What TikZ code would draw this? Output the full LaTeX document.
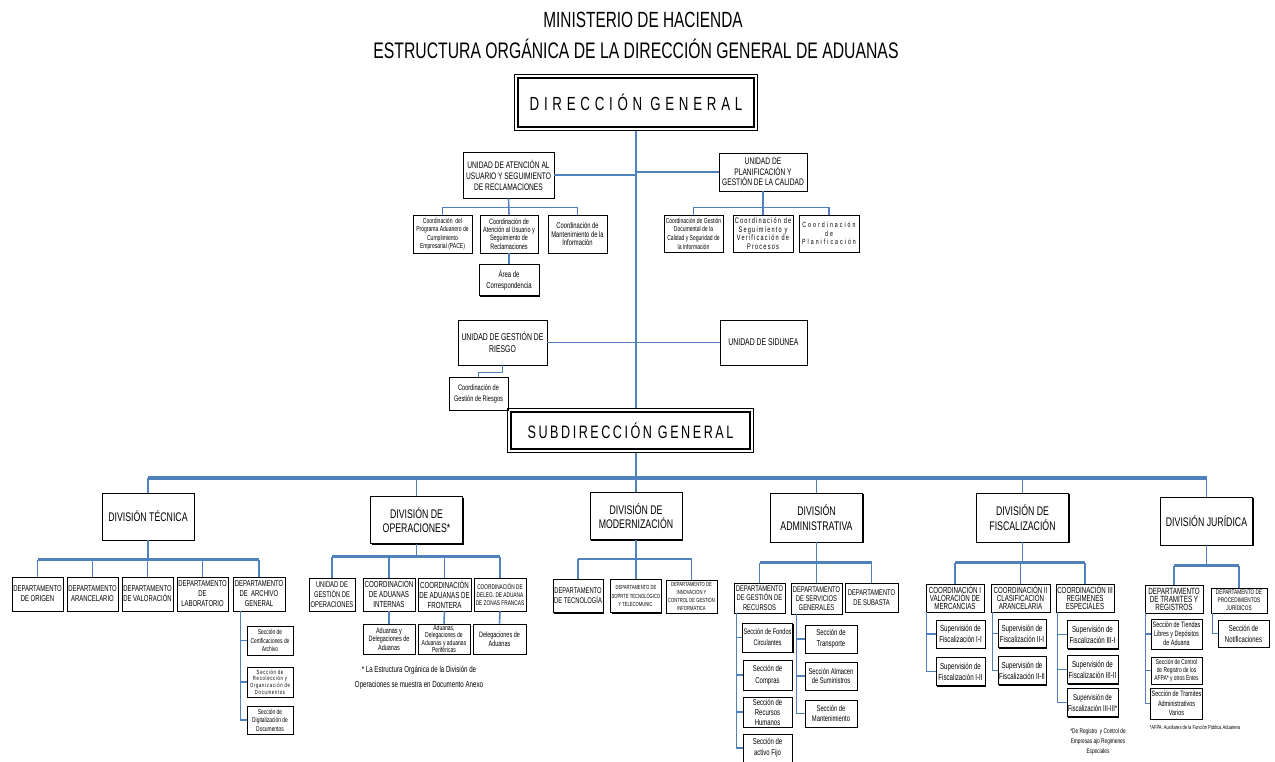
\documentclass[tikz,border=0pt]{standalone}
\usepackage{fontspec}
\setmainfont{Liberation Sans}[FakeStretch=0.7]
\usetikzlibrary{positioning, calc, shadows}
\definecolor{azul}{RGB}{79,129,189}
\newcommand{\fsz}[2]{\fontsize{#1}{#2}\selectfont}
\tikzset{
  caja/.style={draw, line width=0.8pt, fill=white, align=center, inner sep=1pt,
    drop shadow={shadow xshift=1.2pt, shadow yshift=-1.2pt, fill=black, opacity=1}},
  jefe/.style={caja, line width=1.3pt},
  marco/.style={draw, line width=0.8pt},
  division/.style={caja, minimum width=92, minimum height=47, font=\fsz{12.5}{14.5}},
  depto/.style={caja, minimum width=51, minimum height=34, font=\fsz{8.5}{10}},
  superv/.style={caja, minimum height=28, font=\fsz{8.8}{11}},
  linea/.style={draw=azul, line width=1.6pt},
  barra/.style={draw=azul, line width=3.2pt},
  subbarra/.style={draw=azul, line width=2.6pt},
  nota/.style={align=center, inner sep=0pt},
}
\begin{document}
\begin{tikzpicture}[x=1pt, y=-1pt]
\useasboundingbox (0,0) rectangle (1275,761);

\node[nota, font=\fsz{22}{26}] (min) at (643,20) {MINISTERIO DE HACIENDA};
\node[nota, font=\fsz{22.5}{26}] (est) at (636,49) {ESTRUCTURA ORGÁNICA DE LA DIRECCIÓN GENERAL DE ADUANAS};

\node[jefe, minimum width=236, minimum height=49, font={\fsz{19}{22}\addfontfeatures{LetterSpace=25}}] (dg) at (636,102.5) {DIRECCIÓN\hspace{8pt}GENERAL};
\draw[marco] ($(dg.north west)+(-3,-3)$) rectangle ($(dg.south east)+(3,3)$);

\node[caja, minimum width=91, minimum height=46, font=\fsz{9.5}{11}] (uatn) at (508.5,175) {UNIDAD DE ATENCIÓN AL\\USUARIO Y SEGUIMIENTO\\DE RECLAMACIONES};
\node[caja, minimum width=88, minimum height=38, font=\fsz{9.5}{10.5}] (upla) at (763,172) {UNIDAD DE\\PLANIFICACIÓN Y\\GESTIÓN DE LA CALIDAD};

\node[caja, minimum width=59, minimum height=38, font=\fsz{7.2}{8.3}] (pace) at (442.5,234) {Coordinación\ \ del\\Programa Aduanero de\\Cumplimiento\\Empresarial (PACE)};
\node[caja, minimum width=58, minimum height=38, font=\fsz{7.8}{8.3}] (catn) at (509,234) {Coordinación de\\Atención al Usuario y\\Seguimiento de\\Reclamaciones};
\node[caja, minimum width=59, minimum height=38, font=\fsz{8.3}{8.5}] (cmnt) at (577.5,234) {Coordinación de\\Mantenimiento de la\\Información};
\node[caja, minimum width=60, minimum height=31, font=\fsz{8.5}{11}] (acor) at (509,280) {Área de\\Correspondencia};

\node[caja, minimum width=59, minimum height=37, font=\fsz{7.2}{8.6}] (cgdc) at (693.5,233.5) {Coordinación de Gestión\\Documental de la\\Calidad y Seguridad de\\la Información};
\node[caja, minimum width=60, minimum height=37, font={\fsz{8}{8.4}\addfontfeatures{LetterSpace=15}}] (csvp) at (763,233.5) {Coordinación de\\Seguimiento y\\Verificación de\\Procesos};
\node[caja, minimum width=60, minimum height=37, font={\fsz{7.5}{8.5}\addfontfeatures{LetterSpace=27}}] (cpla) at (829,233.5) {Coordinación\\de\\Planificación};

\node[caja, minimum width=89, minimum height=45, font=\fsz{9.8}{12}] (ugr) at (502.5,342.5) {UNIDAD DE GESTIÓN DE\\RIESGO};
\node[caja, minimum width=87, minimum height=45, font=\fsz{9.8}{12}] (usid) at (763.5,342.5) {UNIDAD DE SIDUNEA};
\node[caja, minimum width=59, minimum height=33, font=\fsz{8}{11}] (cgr) at (478.5,393.5) {Coordinación de\\Gestión de Riesgos};

\node[jefe, minimum width=239, minimum height=37, font={\fsz{18}{20}\addfontfeatures{LetterSpace=14}}] (sg) at (630.5,430.5) {SUBDIRECCIÓN\hspace{6pt}GENERAL};
\draw[marco] ($(sg.north west)+(-3,-3)$) rectangle ($(sg.south east)+(3,3)$);

\node[division] (dtec) at (148,516.5) {DIVISIÓN TÉCNICA};
\node[division] (dope) at (416.5,520) {DIVISIÓN DE\\OPERACIONES*};
\node[division] (dmod) at (636,516) {DIVISIÓN DE\\MODERNIZACIÓN};
\node[division, minimum height=49] (dadm) at (816.5,517.5) {DIVISIÓN\\ADMINISTRATIVA};
\node[division, minimum height=49] (dfis) at (1022.5,517.5) {DIVISIÓN DE\\FISCALIZACIÓN};
\node[division, minimum height=48] (djur) at (1206.5,521) {DIVISIÓN JURÍDICA};

\node[depto] (dor) at (37.5,594) {DEPARTAMENTO\\DE ORIGEN};
\node[depto] (dar) at (92.5,594) {DEPARTAMENTO\\ARANCELARIO};
\node[depto] (dva) at (147.5,594) {DEPARTAMENTO\\DE VALORACIÓN};
\node[depto] (dla) at (202.5,594) {DEPARTAMENTO\\DE\\LABORATORIO};
\node[depto, minimum width=52] (dag) at (259,594) {DEPARTAMENTO\\DE\ \ ARCHIVO\\GENERAL};

\node[caja, minimum width=46, minimum height=29, font=\fsz{7}{8.5}] (scer) at (270,640.5) {Sección de\\Certificaciones de\\Archivo};
\node[caja, minimum width=46, minimum height=30, font={\fsz{6}{6.6}\addfontfeatures{LetterSpace=12}}] (srec) at (270,682) {Sección de\\Recolección y\\Organización de\\Documentos};
\node[caja, minimum width=46, minimum height=28, font=\fsz{7}{8.5}] (sdig) at (270,720) {Sección de\\Digitalización de\\Documentos};

\node[depto, minimum width=46, minimum height=33, font=\fsz{8.3}{10}] (ugo) at (332,594.5) {UNIDAD DE\\GESTIÓN DE\\OPERACIONES};
\node[depto, minimum width=52, minimum height=33, font=\fsz{8.8}{10}] (cai) at (389,594.5) {COORDINACION\\DE ADUANAS\\INTERNAS};
\node[depto, minimum width=53, minimum height=33, font=\fsz{8.8}{10}] (caf) at (444.5,594.5) {COORDINACIÓN\\DE ADUANAS DE\\FRONTERA};
\node[depto, minimum width=52, minimum height=33, font=\fsz{6.8}{8}] (czf) at (500,594.5) {COORDINACIÓN DE\\DELEG. DE ADUANA\\DE ZONAS FRANCAS};

\node[caja, minimum width=52, minimum height=30, font=\fsz{7.8}{8.3}] (adi) at (389,639) {Aduanas y\\Delegaciones de\\Aduanas};
\node[caja, minimum width=52, minimum height=30, inner ysep=0pt, font=\fsz{7.2}{7.6}] (adf) at (444,639) {Aduanas,\\Delegaciones de\\Aduanas y aduanas\\Periféricas};
\node[caja, minimum width=53, minimum height=30, font=\fsz{7.8}{9}] (dza) at (499.5,639) {Delegaciones de\\Aduanas};

\node[nota, font=\fsz{8.8}{15}] (nope) at (419,677.5) {* La Estructura Orgánica de la División de\\Operaciones se muestra en Documento Anexo};

\node[depto, minimum width=50, minimum height=33, font=\fsz{8.3}{10}] (dtc) at (578,596) {DEPARTAMENTO\\DE TECNOLOGÍA};
\node[depto, minimum width=50, minimum height=33, font=\fsz{5.9}{8.5}] (dst) at (636,596) {DEPARTAMENTO DE\\SOPRTE TECNOLÓGICO\\Y TELECOMUNIC.};
\node[depto, minimum width=51, minimum height=33, inner ysep=0pt, font=\fsz{5.9}{8.2}] (dic) at (691.5,596.5) {DEPARTAMENTO DE\\INNOVACIÓN Y\\CONTROL DE GESTIÓN\\INFORMÁTICA};

\node[depto, minimum height=30, font=\fsz{8.3}{9.2}] (dgr) at (759.5,598) {DEPARTAMENTO\\DE GESTIÓN DE\\RECURSOS};
\node[depto, minimum height=31, font=\fsz{8.3}{9.2}] (dsg) at (816.5,598.5) {DEPARTAMENTO\\DE SERVICIOS\\GENERALES};
\node[depto, minimum width=53, minimum height=29, font=\fsz{8.3}{10}] (dsu) at (871.5,597.5) {DEPARTAMENTO\\DE SUBASTA};

\node[caja, minimum width=49, minimum height=29, font=\fsz{8}{11}] (sfon) at (767.5,637.5) {Sección de Fondos\\Circulantes};
\node[caja, minimum width=49, minimum height=30, font=\fsz{8.5}{12}] (scom) at (767.5,675) {Sección de\\Compras};
\node[caja, minimum width=49, minimum height=30, font=\fsz{8.5}{10}] (srhu) at (767.5,712) {Sección de\\Recursos\\Humanos};
\node[caja, minimum width=49, minimum height=28, font=\fsz{8.5}{11}] (sact) at (767.5,748) {Sección de\\activo Fijo};

\node[caja, minimum width=52, minimum height=28, font=\fsz{8.5}{11}] (stra) at (831,639) {Sección de\\Transporte};
\node[caja, minimum width=52, minimum height=28, font=\fsz{8.3}{9.5}] (salm) at (831,676) {Sección Almacen\\de Suministros};
\node[caja, minimum width=52, minimum height=27, font=\fsz{8.3}{10}] (sman) at (831,713.5) {Sección de\\Mantenimiento};

\node[depto, minimum width=58, minimum height=28, font=\fsz{8.8}{8}] (cvm) at (955,598) {COORDINACIÓN I\\VALORACIÓN DE\\MERCANCIAS};
\node[depto, minimum width=59, minimum height=28, font=\fsz{8.8}{8}] (cca) at (1020.5,598) {COORDINACIÓN II\\CLASIFICACIÓN\\ARANCELARIA};
\node[depto, minimum width=58, minimum height=28, font=\fsz{8.8}{8}] (cre) at (1085,598) {COORDINACIÓN III\\REGIMENES\\ESPECIALES};

\node[superv, minimum width=49] (s11) at (960.5,634) {Supervisión de\\Fiscalización I-I};
\node[superv, minimum width=49] (s12) at (960.5,671.5) {Supervisión de\\Fiscalización I-II};
\node[superv, minimum width=48] (s21) at (1022,633.5) {Supervisión de\\Fiscalización II-I};
\node[superv, minimum width=48] (s22) at (1022,670.5) {Supervisión de\\Fiscalización II-II};
\node[superv, minimum width=51] (s31) at (1092.5,634.5) {Supervisión de\\Fiscalización III-I};
\node[superv, minimum width=51] (s32) at (1092.5,669.5) {Supervisión de\\Fiscalización III-II};
\node[superv, minimum width=51, inner xsep=0pt, font=\fsz{8.4}{11}] (s33) at (1092.5,702.5) {Supervisión de\\Fiscalización III-III*};

\node[nota, font=\fsz{6.8}{10}] (nfis) at (1098,742) {*De Registro\ \ y Control de\\Empresas ajo Regimenes\\Especiales};

\node[depto, minimum width=58, minimum height=28, font=\fsz{9}{8}] (dtrr) at (1174,599) {DEPARTAMENTO\\DE TRAMITES Y\\REGISTROS};
\node[depto, minimum width=56, minimum height=25, font=\fsz{6.7}{8}] (dpro) at (1239,600.5) {DEPARTAMENTO DE\\PROCEDIMIENTOS\\JURÍDICOS};

\node[caja, minimum width=51, minimum height=30, font=\fsz{7.8}{9}] (stie) at (1176.5,634) {Sección de Tiendas\\Libres y Depósitos\\de Aduana};
\node[caja, minimum width=51, minimum height=27, font=\fsz{7}{8}] (sreg) at (1176.5,670.5) {Sección de Control\\de Registro de los\\AFPA* y otros Entes};
\node[caja, minimum width=51, minimum height=31, font=\fsz{7.8}{9.5}] (stad) at (1176.5,703.5) {Sección de Tramites\\Administrativos\\Varios};
\node[caja, minimum width=51, minimum height=27, font=\fsz{8.5}{11}] (snot) at (1243.5,633.5) {Sección de\\Notificaciones};

\node[nota, font=\fsz{5.8}{7}] (nafp) at (1195,727) {*AFPA: Auxiliares de la Función Pública Aduanera};

\draw[linea] ([yshift=-3pt]dg.south) -- ([yshift=3pt]dg.south |- sg.north);
\draw[linea] (uatn.east) -- (uatn.east -| dg.south);
\draw[linea] (upla.west) -- (upla.west -| dg.south);
\draw[linea] (uatn.south) -- (catn.north);
\draw[linea] (pace.north) -- ++(0,-7) -| (cmnt.north);
\draw[linea] (catn.south) -- (acor.north);
\draw[linea] (upla.south) -- (csvp.north);
\draw[linea] (cgdc.north) -- ++(0,-7) -| (cpla.north);
\draw[linea] (ugr.east) -- (usid.west);
\draw[linea, line width=1pt] (ugr.south) -- ++(0,7) -| (cgr.north);
\draw[linea] ([yshift=-3pt]dg.south |- sg.south) -- (dmod.north);

\coordinate (bus) at (0,478);
\draw[barra] (dtec.north |- bus) -- (djur.north |- bus);
\foreach \nodo in {dtec,dope,dadm,dfis,djur}
  \draw[linea] (\nodo.north) -- (\nodo.north |- bus);

\path (dor.north) ++(0,-17) coordinate (btec);
\draw[subbarra] (dor.north |- btec) -- (dag.north |- btec);
\draw[linea] (dtec.south) -- (dtec.south |- btec);
\foreach \nodo in {dor,dar,dva,dla,dag}
  \draw[linea] (\nodo.north) -- (\nodo.north |- btec);
\draw[linea] ([xshift=8pt]dag.south west) |- (sdig.west);
\foreach \nodo in {scer,srec}
  \draw[linea] (\nodo.west) -- ++(-6,0);

\path (ugo.north) ++(0,-21) coordinate (bope);
\draw[subbarra] (ugo.north |- bope) -- (czf.north |- bope);
\draw[linea] (dope.south) -- (dope.south |- bope);
\foreach \nodo in {ugo,cai,caf,czf}
  \draw[linea] (\nodo.north) -- (\nodo.north |- bope);
\foreach \arriba/\abajo in {cai/adi,caf/adf,czf/dza}
  \draw[linea] (\arriba.south) -- (\abajo.north);

\path (dtc.north) ++(0,-20) coordinate (bmod);
\draw[subbarra] (dtc.north |- bmod) -- (dic.north |- bmod);
\draw[linea] (dmod.south) -- (dmod.south |- bmod);
\foreach \nodo in {dtc,dst,dic}
  \draw[linea] (\nodo.north) -- (\nodo.north |- bmod);

\path (dgr.north) ++(0,-20) coordinate (badm);
\draw[subbarra] (dgr.north |- badm) -- (dsu.north |- badm);
\draw[linea] (dadm.south) -- (dadm.south |- badm);
\foreach \nodo in {dgr,dsg,dsu}
  \draw[linea] (\nodo.north) -- (\nodo.north |- badm);
\draw[linea] ([xshift=3pt]dgr.south west) |- (sact.west);
\foreach \nodo in {sfon,scom,srhu}
  \draw[linea] (\nodo.west) -- ++(-6,0);
\draw[linea] ([xshift=6pt]dsg.south west) |- (sman.west);
\foreach \nodo in {stra,salm}
  \draw[linea] (\nodo.west) -- ++(-8,0);

\path (cvm.north) ++(0,-21) coordinate (bfis);
\draw[subbarra] (cvm.north |- bfis) -- (cre.north |- bfis);
\draw[linea] (dfis.south) -- (dfis.south |- bfis);
\foreach \nodo in {cvm,cca,cre}
  \draw[linea] (\nodo.north) -- (\nodo.north |- bfis);
\draw[linea] ([xshift=1pt]cvm.south west) |- (s12.west);
\draw[linea] (s11.west) -- ++(-9,0);
\draw[linea] ([xshift=2pt]cca.south west) |- (s22.west);
\draw[linea] (s21.west) -- ++(-5,0);
\draw[linea] ([xshift=2pt]cre.south west) |- (s33.west);
\foreach \nodo in {s31,s32}
  \draw[linea] (\nodo.west) -- ++(-9,0);

\path (dtrr.north) ++(0,-19) coordinate (bjur);
\draw[subbarra] (dtrr.north |- bjur) -- (dpro.north |- bjur);
\draw[linea] (djur.south) -- (djur.south |- bjur);
\foreach \nodo in {dtrr,dpro}
  \draw[linea] (\nodo.north) -- (\nodo.north |- bjur);
\draw[linea] ([xshift=1pt]dtrr.south west) |- (stad.west);
\foreach \nodo in {stie,sreg}
  \draw[linea] (\nodo.west) -- ++(-5,0);
\draw[linea] ([xshift=2pt]dpro.south west) |- (snot.west);
\end{tikzpicture}
\end{document}
